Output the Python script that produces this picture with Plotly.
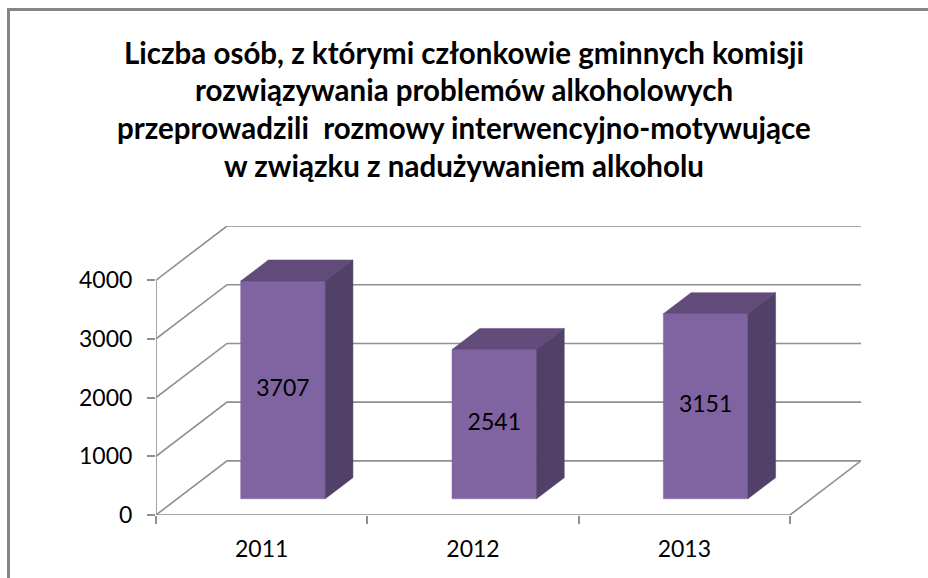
import plotly.graph_objects as go

# ---------------- data ----------------
years = ["2011", "2012", "2013"]
values = [3707, 2541, 3151]
y_ticks = [0, 1000, 2000, 3000, 4000]
title_lines = [
    "Liczba osób, z którymi członkowie gminnych komisji",
    "rozwiązywania problemów alkoholowych",
    "przeprowadzili  rozmowy interwencyjno-motywujące",
    "w związku z nadużywaniem alkoholu",
]

# ---------------- style / geometry ----------------
W, H = 928, 578
L, R, T, B = 156, 67, 226, 63
D_X = 0.336      # 3D depth offset (category units)
D_Y = 922        # 3D depth offset (value units)
F1, F2 = 0.30, 0.69   # bar depth position (fraction of depth)
BAR_W = 0.40
GRID_C = "#8f8f8f"
FRONT_C = "#8064A2"
TOP_C = "#604B7B"
SIDE_C = "#514067"
FONT = "Lato"

PW = W - L - R
PH = H - T - B
X0, X1 = -0.5, len(years) - 0.5
Y_TOP = max(y_ticks) + D_Y


def px_to_paper_x(px):
    return (px - L) / PW


def px_to_paper_y(py):
    return (H - B - py) / PH


fig = go.Figure()

# back wall + left wall grid lines
gx, gy = [], []
for v in y_ticks:
    gx += [X0, X0 + D_X, X1 + D_X, None]
    gy += [v, v + D_Y, v + D_Y, None]
fig.add_trace(go.Scatter(x=gx, y=gy, mode="lines", line=dict(color=GRID_C, width=1.6),
                         hoverinfo="skip", showlegend=False))

# floor front & right edge, y axis line
fig.add_trace(go.Scatter(x=[X0, X1, X1 + D_X, None, X0, X0],
                         y=[0, 0, D_Y, None, 0, max(y_ticks)],
                         mode="lines", line=dict(color=GRID_C, width=1.6),
                         hoverinfo="skip", showlegend=False))

# bars as 3D boxes
ddx = (F2 - F1) * D_X
ddy = (F2 - F1) * D_Y
base = F1 * D_Y
for i, v in enumerate(values):
    cx = i + F1 * D_X
    xa, xb = cx - BAR_W / 2, cx + BAR_W / 2
    # front
    fig.add_trace(go.Scatter(x=[xa, xb, xb, xa, xa], y=[base, base, base + v, base + v, base],
                             fill="toself", fillcolor=FRONT_C, mode="lines",
                             line=dict(color=FRONT_C, width=0.5), hoverinfo="skip", showlegend=False))
    # top
    fig.add_trace(go.Scatter(x=[xa, xb, xb + ddx, xa + ddx, xa],
                             y=[base + v, base + v, base + v + ddy, base + v + ddy, base + v],
                             fill="toself", fillcolor=TOP_C, mode="lines",
                             line=dict(color=TOP_C, width=0.5), hoverinfo="skip", showlegend=False))
    # side
    fig.add_trace(go.Scatter(x=[xb, xb + ddx, xb + ddx, xb, xb],
                             y=[base, base + ddy, base + v + ddy, base + v, base],
                             fill="toself", fillcolor=SIDE_C, mode="lines",
                             line=dict(color=SIDE_C, width=0.5), hoverinfo="skip", showlegend=False))

# data labels
fig.add_trace(go.Scatter(x=[i + F1 * D_X for i in range(len(values))],
                         y=[base + v / 2 for v in values],
                         text=[str(v) for v in values], mode="text",
                         textposition="middle center",
                         textfont=dict(family=FONT, size=23, color="black"),
                         hoverinfo="skip", showlegend=False))

# invisible trace for boundary-tick axis
fig.add_trace(go.Scatter(x=[X0], y=[0], xaxis="x2", mode="markers",
                         marker=dict(opacity=0), hoverinfo="skip", showlegend=False))

# title lines
title_y = [52, 90, 128, 166]
for line, py in zip(title_lines, title_y):
    fig.add_annotation(text="<b>" + line + "</b>", xref="paper", yref="paper",
                       x=px_to_paper_x(464), y=px_to_paper_y(py),
                       xanchor="center", yanchor="middle", showarrow=False,
                       font=dict(family=FONT, size=29.5, color="black"))

# chart border (cut off at right/bottom as in reference)
fig.add_shape(type="rect", xref="paper", yref="paper",
              x0=px_to_paper_x(8.5), x1=px_to_paper_x(940),
              y0=px_to_paper_y(600), y1=px_to_paper_y(9.5),
              line=dict(color="#868686", width=3), fillcolor="rgba(0,0,0,0)")

fig.update_layout(
    width=W, height=H,
    margin=dict(l=L, r=R, t=T, b=B, pad=0),
    paper_bgcolor="white", plot_bgcolor="white",
    showlegend=False,
    xaxis=dict(range=[X0, X1 + D_X], tickvals=list(range(len(years))), ticktext=years,
               ticks="", showgrid=False, zeroline=False, showline=False,
               tickfont=dict(family=FONT, size=23, color="black"),
               ticklabelstandoff=18, fixedrange=True),
    xaxis2=dict(range=[X0, X1 + D_X], overlaying="x", anchor="y", side="bottom",
                tickvals=[X0 + k for k in range(len(years) + 1)],
                ticks="outside", ticklen=8, tickwidth=1.6, tickcolor=GRID_C,
                showticklabels=False, showgrid=False, zeroline=False, showline=False),
    yaxis=dict(range=[0, Y_TOP], tickvals=y_ticks, ticks="outside", ticklen=8,
               tickwidth=1.6, tickcolor=GRID_C, showgrid=False, zeroline=False,
               showline=False, tickfont=dict(family=FONT, size=23, color="black"),
               ticklabelstandoff=10, fixedrange=True),
)

fig.write_html("out.html", config={"displayModeBar": False},
               post_script="document.body.style.margin='0';document.body.style.overflow='hidden';")
